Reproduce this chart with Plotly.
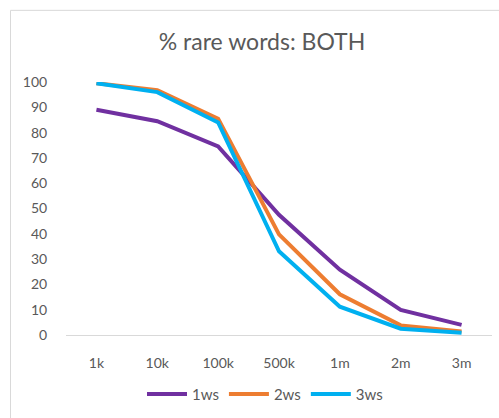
import plotly.graph_objects as go

# Vocabulary sizes and share of rare words (%) per window setting
categories = ["1k", "10k", "100k", "500k", "1m", "2m", "3m"]
ws1 = [89.0, 84.5, 74.5, 47.5, 25.8, 9.9, 4.0]
ws2 = [99.5, 96.8, 85.5, 39.8, 16.1, 3.8, 1.4]
ws3 = [99.5, 96.0, 84.0, 33.1, 11.2, 2.5, 0.9]
series_names = ["1ws", "2ws", "3ws"]
y_ticks = [0, 10, 20, 30, 40, 50, 60, 70, 80, 90, 100]

colors = ["#7030A0", "#ED7D31", "#00B0F0"]
FONT = "Lato, 'Open Sans', sans-serif"
GREY = "#595959"

W, H = 499, 418
L, R, T, B = 66, 7, 82, 80

fig = go.Figure()
for name, vals, col in zip(series_names, [ws1, ws2, ws3], colors):
    fig.add_trace(go.Scatter(
        x=categories, y=vals, name=name, mode="lines",
        line=dict(color=col, width=4, shape="linear"),
        cliponaxis=False,
    ))

# outer chart frame (top-left corner visible)
pw, ph = W - L - R, H - T - B
def px_to_paper_x(px):
    return (px - L) / pw
def px_to_paper_y(py):
    return (H - B - py) / ph

fig.add_shape(type="rect", xref="paper", yref="paper",
              x0=px_to_paper_x(10.5), x1=px_to_paper_x(520),
              y0=px_to_paper_y(440), y1=px_to_paper_y(9.5),
              line=dict(color="#D9D9D9", width=1), layer="below")

fig.update_layout(
    width=W, height=H,
    margin=dict(l=L, r=R, t=T, b=B),
    paper_bgcolor="white", plot_bgcolor="white",
    font=dict(family=FONT, color=GREY, size=14),
    title=dict(text="% rare words: BOTH", x=262 / W, xanchor="center",
               y=1 - 42 / H, yanchor="middle",
               font=dict(family=FONT, size=23, color=GREY)),
    showlegend=True,
    legend=dict(orientation="h", x=px_to_paper_x(265), xanchor="center",
                y=px_to_paper_y(398), yanchor="middle",
                font=dict(family=FONT, size=15, color=GREY),
                itemwidth=40, traceorder="normal"),
    xaxis=dict(type="category", range=[-0.5, 6.5], showgrid=False,
               showline=True, linecolor="#D9D9D9", linewidth=1,
               ticks="outside", ticklen=15, tickcolor="rgba(0,0,0,0)",
               tickfont=dict(size=14, color=GREY), zeroline=False),
    yaxis=dict(range=[0, 100], tickvals=y_ticks, showgrid=False,
               showline=False, zeroline=False,
               ticks="outside", ticklen=15, tickcolor="rgba(0,0,0,0)",
               tickfont=dict(size=14, color=GREY)),
)

fig.write_html("out.html")
